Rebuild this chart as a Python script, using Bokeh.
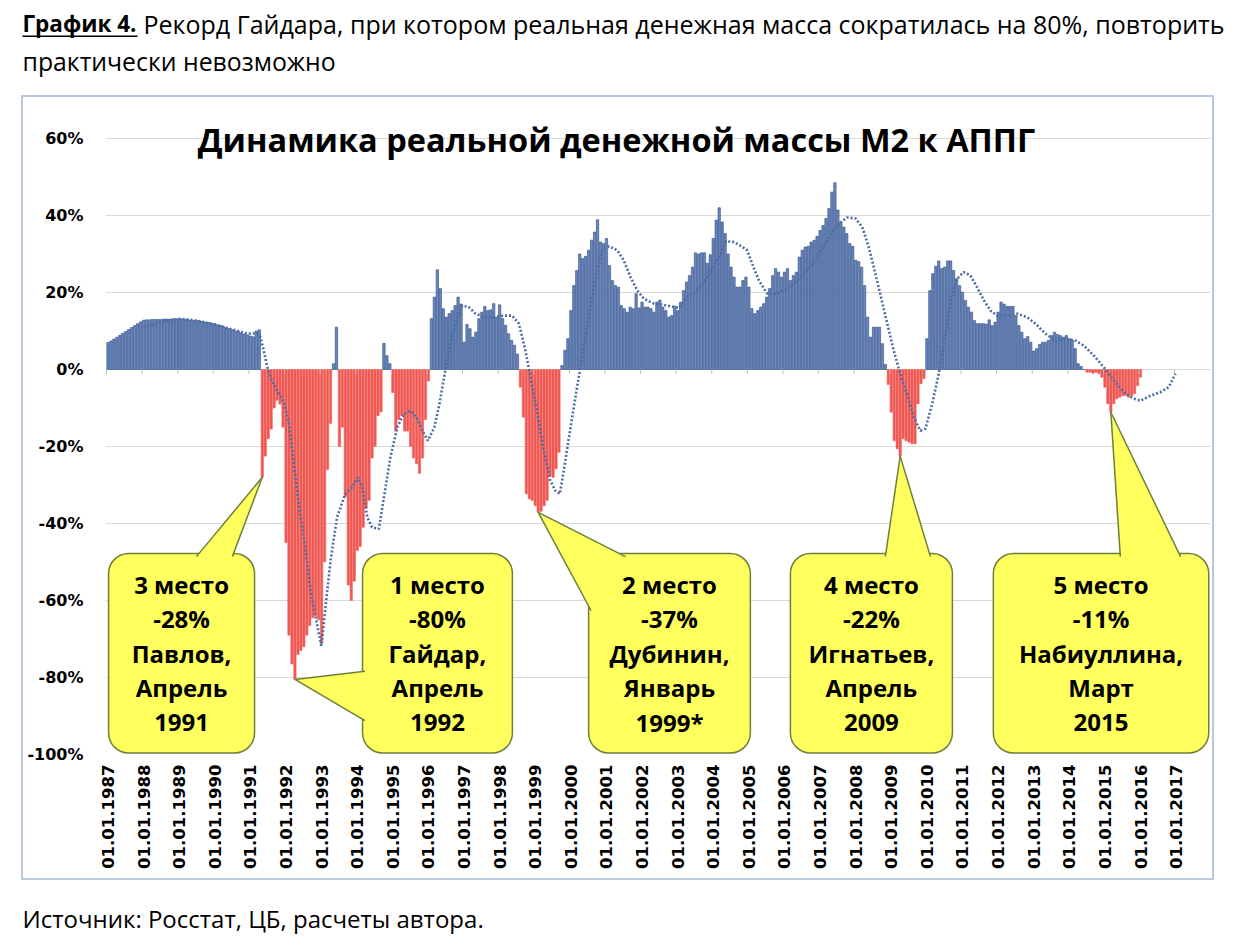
from bokeh.plotting import figure
from bokeh.layouts import column
from bokeh.models import ColumnDataSource, FixedTicker, Label, BoxAnnotation, Range1d
from bokeh.embed import file_html
from bokeh.resources import INLINE
from bokeh.core.properties import value

# ---------------- data ----------------
FIRST_YEAR = 1987  # bar 0 = January 1987, one bar per month

real_m2_yoy = [
    # 1987
    7.0, 7.4, 7.9, 8.4, 8.9, 9.4, 9.9, 10.4, 10.9, 11.4, 11.9, 12.4,
    # 1988
    12.8, 12.9, 12.9, 13.0, 13.0, 13.0, 13.0, 13.1, 13.1, 13.1, 13.2, 13.2,
    # 1989
    13.2, 13.1, 13.0, 12.9, 12.8, 12.75, 12.7, 12.6, 12.5, 12.3, 12.2, 12.0,
    # 1990
    11.9, 11.6, 11.4, 11.1, 10.8, 10.6, 10.3, 10.0, 9.8, 9.5, 9.2, 9.0,
    # 1991
    8.7, 8.5, 10.0, 10.3, -28.0, -22.5, -18.0, -15.5, -10.0, -8.0, -9.0, -15.0,
    # 1992
    -45.0, -69.0, -76.5, -80.5, -74.0, -73.0, -72.0, -69.0, -66.5, -64.5, -64.0, -65.0,
    # 1993
    -71.0, -50.0, -26.0, -14.0, 1.5, 11.0, -20.0, -15.0, -33.0, -56.0, -60.0, -55.0,
    # 1994
    -47.0, -46.0, -41.0, -36.0, -34.0, -23.0, -20.0, -12.0, -11.0, 6.8, 3.6, 1.5,
    # 1995
    -6.0, -16.0, -13.0, -12.0, -16.0, -16.0, -20.0, -23.0, -24.5, -27.0, -23.0, -13.0,
    # 1996
    -3.0, 13.2, 18.8, 25.9, 21.0, 15.8, 13.6, 14.5, 15.3, 16.6, 18.8, 17.0,
    # 1997
    7.1, 11.7, 10.6, 8.4, 9.7, 13.2, 14.9, 16.4, 15.3, 15.5, 17.1, 13.6,
    # 1998
    16.8, 13.2, 11.5, 9.3, 7.6, 6.3, 4.0, -4.6, -12.4, -32.3, -33.6, -34.0,
    # 1999
    -35.4, -37.1, -36.8, -35.4, -34.0, -27.6, -28.0, -25.8, -21.5, 1.0, 5.0, 8.0,
    # 2000
    15.3, 21.8, 25.7, 30.0, 28.8, 29.4, 31.0, 33.6, 35.7, 38.9, 33.1, 32.7,
    # 2001
    34.0, 27.0, 23.1, 21.8, 21.4, 16.6, 15.8, 14.9, 16.2, 15.8, 19.7, 16.0,
    # 2002
    17.5, 16.2, 16.2, 15.8, 14.9, 17.5, 18.0, 16.2, 15.3, 13.6, 14.0, 16.4,
    # 2003
    15.3, 17.5, 20.5, 22.7, 24.4, 26.6, 30.3, 30.0, 30.3, 30.3, 27.6, 29.8,
    # 2004
    34.0, 38.8, 42.0, 38.3, 35.3, 30.0, 26.6, 24.0, 21.4, 21.4, 23.1, 24.0,
    # 2005
    21.4, 15.8, 14.5, 15.3, 16.2, 17.1, 18.8, 21.0, 24.4, 26.2, 25.3, 24.0,
    # 2006
    25.3, 26.2, 23.1, 24.4, 25.3, 29.2, 31.0, 31.8, 32.0, 33.1, 33.6, 34.6,
    # 2007
    36.1, 37.4, 39.2, 41.8, 46.1, 48.5, 41.4, 38.3, 37.0, 35.3, 32.7, 32.0,
    # 2008
    28.4, 28.0, 26.6, 21.8, 13.6, 8.4, 11.0, 11.0, 11.0, 6.7, 1.3, -3.9,
    # 2009
    -11.1, -18.5, -20.6, -22.5, -18.0, -18.5, -18.9, -19.3, -19.3, -8.9, -3.7, -2.4,
    # 2010
    8.0, 20.5, 24.9, 26.8, 28.2, 26.2, 26.6, 28.2, 28.2, 25.7, 23.6, 21.8,
    # 2011
    20.1, 17.9, 16.2, 14.9, 12.7, 11.9, 11.9, 11.9, 11.8, 12.9, 11.4, 12.3,
    # 2012
    14.9, 17.5, 17.0, 16.4, 16.4, 16.4, 14.0, 11.4, 9.7, 8.0, 8.6, 7.1,
    # 2013
    4.8, 5.4, 6.5, 7.1, 7.1, 7.6, 8.8, 9.7, 9.1, 8.8, 8.4, 8.8,
    # 2014
    8.0, 7.6, 5.4, 1.5, 0.8, 0.0, -0.7, -0.7, -1.0, -0.7, -1.1, -2.0,
    # 2015
    -4.6, -8.9, -11.1, -8.9, -7.6, -7.2, -6.8, -6.8, -7.2, -6.8, -6.3, -4.2,
    # 2016
    -2.0,
]

# dotted trend line (month index, %)
trend_month = [12, 17.7, 24.4, 30, 35.7, 42.4, 46.9, 50.3, 51.4, 52.5, 53.7, 55, 57, 59.3,
               61, 62.6, 64.3, 66, 68.3, 70, 71.9, 73.3, 75, 77.2, 80, 82.3, 84.2, 85.7,
               87.4, 89, 91.3, 93, 95.2, 97.5, 99.7, 102, 104.2, 106, 107.8, 110, 111.7,
               113.7, 115.7, 117.7, 119.4, 121.6, 123.9, 126.7, 130, 133.4, 136.2, 138.5,
               140.7, 142.4, 144.7, 146.9, 149.1, 150.8, 152.3, 153.6, 155.9, 158.1, 159.8,
               161.5, 163.2, 164.9, 166.6, 168.8, 171.6, 173.8, 176.1, 178.4, 180.6, 184,
               188.5, 192.4, 195.2, 198.6, 202, 205.3, 208.3, 211, 213.5, 215.4, 217.1,
               219.4, 222.2, 225.5, 228.9, 232.3, 235.7, 239, 242.4, 245.8, 249.1, 252,
               254.2, 256.4, 259.2, 262, 264.8, 267, 269.5, 271.6, 273.8, 275.5, 277.8,
               280, 282.3, 284, 286.2, 288.4, 290.7, 292.9, 295.2, 297.4, 299.7, 303,
               306.4, 309.8, 312.6, 316, 319.3, 322.7, 326.1, 328.9, 332.3, 335.6, 339,
               342.4, 345.7, 348, 351.4, 354.7, 357.5, 359.8]
trend_value = [11.0, 12.3, 13.2, 12.7, 11.7, 10.3, 9.3, 9.4, 8.4, 4.9, 0.6, -2.5, -5.5, -8.5,
               -14.1, -24.5, -35.0, -43.6, -57.5, -64.4, -71.8, -61.8, -49.7, -38.4, -32.3,
               -30.6, -28.0, -30.6, -38.4, -41.0, -41.4, -33.2, -22.8, -15.0, -11.5, -10.7,
               -12.8, -15.9, -18.5, -15.0, -9.0, -0.2, 8.0, 13.6, 16.6, 16.2, 14.5, 13.6,
               13.6, 14.0, 14.0, 11.9, 4.9, -2.0, -11.5, -21.1, -28.9, -31.5, -32.3, -26.3,
               -15.0, -4.6, 3.2, 11.0, 18.8, 25.7, 31.0, 32.0, 31.0, 28.4, 24.0, 20.5, 18.4,
               17.1, 16.6, 16.0, 18.8, 20.5, 24.0, 28.4, 33.3, 33.1, 32.0, 31.0, 27.5, 23.1,
               19.7, 19.7, 21.0, 23.1, 25.7, 29.2, 33.6, 37.5, 39.5, 39.2, 37.0, 31.8, 23.1,
               14.0, 5.0, -1.0, -7.0, -12.4, -15.9, -15.4, -8.9, -1.1, 9.3, 18.0, 23.6, 25.3,
               24.4, 21.4, 18.0, 15.3, 14.0, 14.0, 14.5, 13.6, 11.9, 9.3, 7.5, 8.0, 7.5, 6.2,
               3.6, 0.6, -2.9, -5.9, -7.6, -8.1, -6.8, -5.9, -4.6, -1.1]

y_tick_values = [-100, -80, -60, -40, -20, 0, 20, 40, 60]
x_tick_years = list(range(1987, 2018))

callout_texts = [
    ["3 место", "-28%", "Павлов,", "Апрель", "1991"],
    ["1 место", "-80%", "Гайдар,", "Апрель", "1992"],
    ["2 место", "-37%", "Дубинин,", "Январь", "1999*"],
    ["4 место", "-22%", "Игнатьев,", "Апрель", "2009"],
    ["5 место", "-11%", "Набиуллина,", "Март", "2015"],
]
callout_bar = [52, 63, 145, 267, 338]   # bar each callout points to

# layout of callouts (x in month units, y in %)
callout_box_x = [(0.2, 49.4), (85.8, 136.3), (162.0, 216.5), (230.0, 284.6), (298.4, 371.0)]
callout_base = [
    [(29.8, -48.6), (41.9, -48.6)],
    [(86.6, -78.4), (86.6, -91.2)],
    [(162.8, -62.6), (174.4, -48.6)],
    [(262.0, -48.6), (277.2, -48.6)],
    [(341.2, -48.6), (361.5, -48.6)],
]
BOX_TOP, BOX_BOTTOM = -47.8, -99.6

header_bold = "График 4."
header_line1 = "Рекорд Гайдара, при котором реальная денежная масса сократилась на 80%, повторить"
header_line2 = "практически невозможно"
chart_title = "Динамика реальной денежной массы М2 к АППГ"
source_text = "Источник: Росстат, ЦБ, расчеты автора."

# ---------------- geometry (page pixels) ----------------
PAGE_W = 1240
BORDER = 2
BOX_L, BOX_T, BOX_R, BOX_B = 23, 97, 1212, 878      # inner edges of the chart box
FRAME_L, FRAME_R, FRAME_B = 105, 1210, 754
HEADER_H = BOX_T - BORDER
FOOTER_TOP = BOX_B + BORDER
FOOTER_H = 66
MAIN_W, MAIN_H = BOX_R - BOX_L, BOX_B - BOX_T
PX_PER_MONTH = 2.967
PX_PER_PCT = 3.85
X0 = -0.84
X1 = X0 + (FRAME_R - FRAME_L) / PX_PER_MONTH
Y0 = -100
Y1 = Y0 + (FRAME_B - BOX_T) / PX_PER_PCT


def px_x(page_x):
    return X0 + (page_x - FRAME_L) / PX_PER_MONTH


def px_y(page_y):
    return Y0 + (FRAME_B - page_y) / PX_PER_PCT


FONT = "Open Sans"

# ---------------- header ----------------
hdr = figure(width=PAGE_W, height=HEADER_H, output_backend="svg", toolbar_location=None,
             x_range=Range1d(0, PAGE_W), y_range=Range1d(HEADER_H, 0),
             x_axis_location=None, y_axis_location=None, min_border=0, frame_align=False)
hdr.outline_line_color = None
hdr.grid.visible = False
hdr.add_layout(Label(x=22, y=23, text=header_bold, text_align="left", text_baseline="middle",
                     text_font=FONT, text_font_style="bold", text_font_size="22.5px",
                     text_color="black"))
hdr.add_layout(BoxAnnotation(left=22, right=137, top=35, bottom=36.6, fill_color="black",
                             fill_alpha=1, line_color=None))
hdr.add_layout(Label(x=143, y=23, text=header_line1, text_align="left", text_baseline="middle",
                     text_font=FONT, text_font_size="25px", text_color="black"))
hdr.add_layout(Label(x=22, y=60, text=header_line2, text_align="left", text_baseline="middle",
                     text_font=FONT, text_font_size="24.8px", text_color="black"))

# ---------------- main chart ----------------
p = figure(width=MAIN_W, height=MAIN_H, output_backend="svg", toolbar_location=None,
           x_range=Range1d(X0, X1), y_range=Range1d(Y0, Y1),
           min_border_left=FRAME_L - BOX_L, min_border_right=BOX_R - FRAME_R,
           min_border_top=0, min_border_bottom=BOX_B - FRAME_B, frame_align=False)
p.outline_line_color = None
p.background_fill_color = "white"
p.border_fill_color = "white"

p.xgrid.visible = False
p.ygrid.ticker = FixedTicker(ticks=y_tick_values)
p.ygrid.grid_line_color = "#d9d9d9"
p.ygrid.grid_line_width = 1

p.yaxis.ticker = FixedTicker(ticks=y_tick_values)
p.yaxis.major_label_overrides = {v: f"{v}%" for v in y_tick_values}
p.yaxis.axis_line_color = None
p.yaxis.major_tick_line_color = None
p.yaxis.minor_tick_line_color = None
p.yaxis.major_tick_out = 0
p.yaxis.major_label_standoff = 22
p.yaxis.major_label_text_font = "DejaVu Sans"
p.yaxis.major_label_text_font_style = "bold"
p.yaxis.major_label_text_font_size = "16px"
p.yaxis.major_label_text_color = "black"

x_ticks = [12 * (y - FIRST_YEAR) for y in x_tick_years]
p.xaxis.ticker = FixedTicker(ticks=x_ticks)
p.xaxis.major_label_overrides = {t: f"01.01.{y}" for t, y in zip(x_ticks, x_tick_years)}
p.xaxis.major_label_orientation = 3.14159265 / 2
p.xaxis.axis_line_color = None
p.xaxis.major_tick_line_color = None
p.xaxis.minor_tick_line_color = None
p.xaxis.major_tick_out = 0
p.xaxis.major_label_standoff = 10
p.xaxis.major_label_text_font = "DejaVu Sans"
p.xaxis.major_label_text_font_style = "bold"
p.xaxis.major_label_text_font_size = "16.5px"
p.xaxis.major_label_text_color = "black"

# bars
months = list(range(len(real_m2_yoy)))
fills = ["#6a87bf" if v >= 0 else "#f2544e" for v in real_m2_yoy]
lines = ["#2d4a7e" if v >= 0 else "#ef6a64" for v in real_m2_yoy]
src = ColumnDataSource(dict(m=months, v=real_m2_yoy, fill=fills, line=lines))
p.vbar(x="m", top="v", bottom=0, width=0.8, fill_color="fill", line_color="line",
       line_width=0.6, source=src)

# small tick marks on the zero line at year boundaries
tick_edges = [t - 0.5 for t in x_ticks]
p.segment(x0=tick_edges, y0=[0] * len(tick_edges), x1=tick_edges, y1=[-1.2] * len(tick_edges),
          line_color="#bfbfbf", line_width=1)

# dotted trend line
p.line(trend_month, trend_value, line_color="#4c6ca6", line_width=2.6, line_dash="2 2")

# callouts
YELLOW = "#ffff5e"
EDGE = "#6f7f3a"
for texts, bar, (bx0, bx1), base in zip(callout_texts, callout_bar, callout_box_x, callout_base):
    p.quad(left=[bx0], right=[bx1], top=[BOX_TOP], bottom=[BOX_BOTTOM], fill_color=YELLOW,
           line_color=EDGE, line_width=1.5, border_radius=20)
    tip = (bar, real_m2_yoy[bar])
    xs = [tip[0], base[0][0], base[1][0]]
    ys = [tip[1], base[0][1], base[1][1]]
    p.patch(xs, ys, fill_color=YELLOW, line_color=None)
    p.segment(x0=[tip[0], tip[0]], y0=[tip[1], tip[1]], x1=[base[0][0], base[1][0]],
              y1=[base[0][1], base[1][1]], line_color=EDGE, line_width=1.5)
    cx = (bx0 + bx1) / 2
    ty = [BOX_TOP - 8.0 - 8.95 * i for i in range(len(texts))]
    p.text(x=[cx] * len(texts), y=ty, text=texts, text_align="center", text_baseline="middle",
           text_font=value(FONT), text_font_style="bold", text_font_size="24px",
           text_color="black")

# chart title
p.add_layout(Label(x=px_x(616), y=px_y(139), text=chart_title, text_align="center",
                   text_baseline="middle", text_font=FONT, text_font_style="bold",
                   text_font_size="32.5px", text_color="black"))

chart_box = column(p, margin=(0, 0, 0, BOX_L - BORDER),
                   styles={"border": f"{BORDER}px solid #b9c8dd", "box-sizing": "content-box"})

# ---------------- footer ----------------
ftr = figure(width=PAGE_W, height=FOOTER_H, output_backend="svg", toolbar_location=None,
             x_range=Range1d(0, PAGE_W), y_range=Range1d(FOOTER_H, 0),
             x_axis_location=None, y_axis_location=None, min_border=0, frame_align=False)
ftr.outline_line_color = None
ftr.grid.visible = False
ftr.add_layout(Label(x=22, y=918 - FOOTER_TOP, text=source_text, text_align="left",
                     text_baseline="middle", text_font=FONT, text_font_size="24px",
                     text_color="black"))

layout = column(hdr, chart_box, ftr, spacing=0)
open("out.html", "w").write(file_html(layout, INLINE))
